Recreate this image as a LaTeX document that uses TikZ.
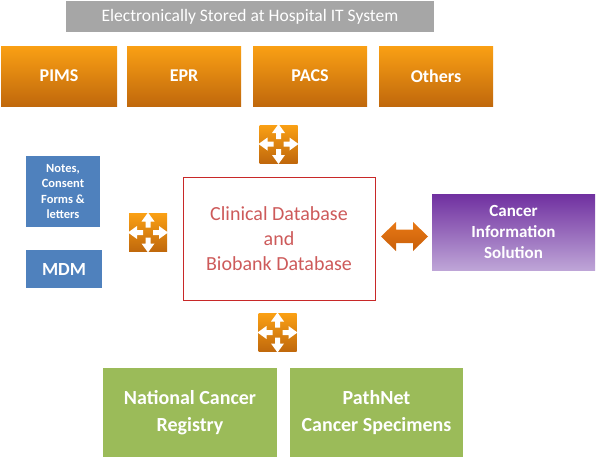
\documentclass[tikz,border=0pt]{standalone}
\usepackage{fontspec}
\setmainfont{Carlito}
\definecolor{grayhead}{RGB}{166,166,166}
\definecolor{orangetop}{RGB}{250,160,20}
\definecolor{orangebot}{RGB}{192,104,12}
\definecolor{bluebox}{RGB}{79,129,189}
\definecolor{greenbox}{RGB}{155,187,89}
\definecolor{purpletop}{RGB}{112,48,160}
\definecolor{purplebot}{RGB}{190,165,215}
\definecolor{dbred}{RGB}{200,40,40}
\definecolor{dbtext}{RGB}{205,90,90}
\definecolor{arrtop}{RGB}{232,120,20}
\definecolor{arrbot}{RGB}{200,95,10}
\tikzset{
  x=1pt, y=-1pt,
  sysbox/.style={draw=none, minimum width=114pt, minimum height=60pt, inner sep=0pt,
     top color=orangetop, bottom color=orangebot, text=white, font=\fontsize{18}{20}\selectfont\bfseries},
  notebox/.style={fill=bluebox, inner sep=0pt, text=white, font=\bfseries, align=center},
  regbox/.style={fill=greenbox, minimum width=174pt, minimum height=89pt, inner sep=0pt,
     text=white, align=center, font=\fontsize{20}{27}\selectfont\bfseries},
  quadicon/.pic={
    \shade[shading=axis, shading angle=225, top color=orangetop, bottom color=orangebot]
      (-19,-19) rectangle (19,19);
    \foreach \a in {0,90,180,270}{
      \fill[white, rotate=\a] (-6.5,-11) -- (0,-20) -- (6.5,-11) -- (2.5,-11) -- (2.5,-5)
        -- (-2.5,-5) -- (-2.5,-11) -- cycle;
    }
  }
}
\begin{document}
\begin{tikzpicture}
\useasboundingbox (0,0) rectangle (596,458);
% header
\node[fill=grayhead, minimum width=368pt, minimum height=31pt, inner sep=0pt,
      text=white, font=\fontsize{17.5}{19}\selectfont] (hdr) at (250,16.5)
      {Electronically Stored at Hospital IT System};
% orange systems
\node[sysbox, minimum width=116pt] (pims) at (59,76) {PIMS};
\node[sysbox] (epr) at (184,76) {EPR};
\node[sysbox] (pacs) at (310,76) {PACS};
\node[sysbox] (others) at (436,76) {Others};
% central database
\node[draw=dbred, line width=1pt, minimum width=192pt, minimum height=123pt, inner sep=0pt,
      text=dbtext, align=center, font=\fontsize{20}{25}\selectfont] (db) at (279,238.5)
      {Clinical Database\\and\\Biobank Database};
% left blue boxes
\node[notebox, minimum width=74pt, minimum height=71pt, font=\fontsize{12.5}{15.5}\selectfont\bfseries]
      (notes) at (63,191.5) {Notes,\\Consent\\Forms \&\\letters};
\node[notebox, minimum width=76pt, minimum height=38pt, font=\fontsize{18.5}{20}\selectfont\bfseries]
      (mdm) at (64,269) {MDM};
% purple box
\node[draw=none, minimum width=163pt, minimum height=76pt, inner sep=0pt,
      top color=purpletop, bottom color=purplebot, text=white, align=center,
      font=\fontsize{17}{21}\selectfont\bfseries] (cis) at (513.5,232)
      {Cancer\\Information\\Solution};
% green boxes
\node[regbox] (ncr) at (190,412.5) {National Cancer\\Registry};
\node[regbox, minimum width=173pt] (pathnet) at (376.5,412.5) {PathNet\\Cancer Specimens};
% quad icons
\pic at (278.5,144) {quadicon};
\pic at (148,232.5) {quadicon};
\pic at (277.5,332.5) {quadicon};
% double arrow
\shade[top color=arrtop, bottom color=arrbot] (381,236.5) -- (396,222) -- (396,229.5) -- (413,229.5) -- (413,222) -- (428,236.5)
   -- (413,251) -- (413,243) -- (396,243) -- (396,251) -- cycle;
\end{tikzpicture}
\end{document}
